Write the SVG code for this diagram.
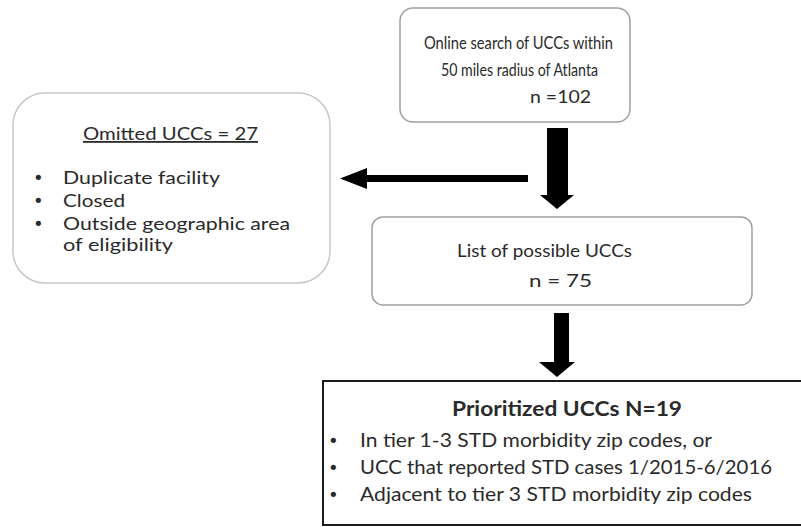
<svg xmlns="http://www.w3.org/2000/svg" width="801" height="527" viewBox="0 0 801 527">
  <style>
    .box { fill: #ffffff; stroke: #a0a0a0; stroke-width: 1.5; }
    .bbox { fill: #ffffff; stroke: #1a1a1a; stroke-width: 2; }
    .t { font-family: Lato, "Open Sans", "DejaVu Sans", sans-serif; fill: #2a2a2a; }
    .bul { font-family: "DejaVu Sans", sans-serif; fill: #2a2a2a; font-size: 18px; }
    .arrow { fill: #000000; }
  </style>
  <rect width="801" height="527" fill="#ffffff"/>

  <g id="connectors">
    <polygon class="arrow" points="547,128 568,128 568,195 574,195 557,209 540,195 547,195"/>
    <polygon class="arrow" points="528,175 367,175 367,168 340,178.5 367,189 367,182 528,182"/>
    <polygon class="arrow" points="554,313 569,313 569,362 575,362 557,377 539,362 554,362"/>
  </g>

  <g id="node-search">
    <rect class="box" x="400" y="8" width="230" height="114" rx="13"/>
    <text class="t" x="424" y="49" font-size="17.5" textLength="189" lengthAdjust="spacingAndGlyphs">Online search of UCCs within</text>
    <text class="t" x="441" y="76" font-size="17.5" textLength="157" lengthAdjust="spacingAndGlyphs">50 miles radius of Atlanta</text>
    <text class="t" x="530" y="103" font-size="17.5" textLength="61" lengthAdjust="spacingAndGlyphs">n =102</text>
  </g>

  <g id="node-omitted">
    <rect class="box" x="13" y="93" width="317" height="190" rx="32" style="stroke:#c8c8c8"/>
    <text class="t" x="83" y="140" font-size="18" textLength="175" lengthAdjust="spacingAndGlyphs" text-decoration="underline">Omitted UCCs = 27</text>
    <text class="bul" x="33" y="184">•</text>
    <text class="t" x="63" y="184" font-size="18" textLength="157" lengthAdjust="spacingAndGlyphs">Duplicate facility</text>
    <text class="bul" x="33" y="207">•</text>
    <text class="t" x="63" y="207" font-size="18" textLength="62" lengthAdjust="spacingAndGlyphs">Closed</text>
    <text class="bul" x="33" y="230">•</text>
    <text class="t" x="63" y="230" font-size="18" textLength="227" lengthAdjust="spacingAndGlyphs">Outside geographic area</text>
    <text class="t" x="63" y="251" font-size="18" textLength="110" lengthAdjust="spacingAndGlyphs">of eligibility</text>
  </g>

  <g id="node-list">
    <rect class="box" x="372" y="217" width="380" height="88" rx="11"/>
    <text class="t" x="457" y="257" font-size="18" textLength="175" lengthAdjust="spacingAndGlyphs">List of possible UCCs</text>
    <text class="t" x="529" y="287" font-size="18" textLength="63" lengthAdjust="spacingAndGlyphs">n = 75</text>
  </g>

  <g id="node-prioritized">
    <rect class="bbox" x="323" y="381" width="490" height="144"/>
    <text class="t" x="452" y="416" font-size="20" font-weight="bold" fill="#111" textLength="230" lengthAdjust="spacingAndGlyphs">Prioritized UCCs N=19</text>
    <text class="bul" x="328" y="447">•</text>
    <text class="t" x="360" y="447" font-size="19" textLength="352" lengthAdjust="spacingAndGlyphs">In tier 1-3 STD morbidity zip codes, or</text>
    <text class="bul" x="328" y="474">•</text>
    <text class="t" x="360" y="474" font-size="19" textLength="412" lengthAdjust="spacingAndGlyphs">UCC that reported STD cases 1/2015-6/2016</text>
    <text class="bul" x="328" y="501">•</text>
    <text class="t" x="360" y="501" font-size="19" textLength="392" lengthAdjust="spacingAndGlyphs">Adjacent to tier 3 STD morbidity zip codes</text>
  </g>
</svg>
